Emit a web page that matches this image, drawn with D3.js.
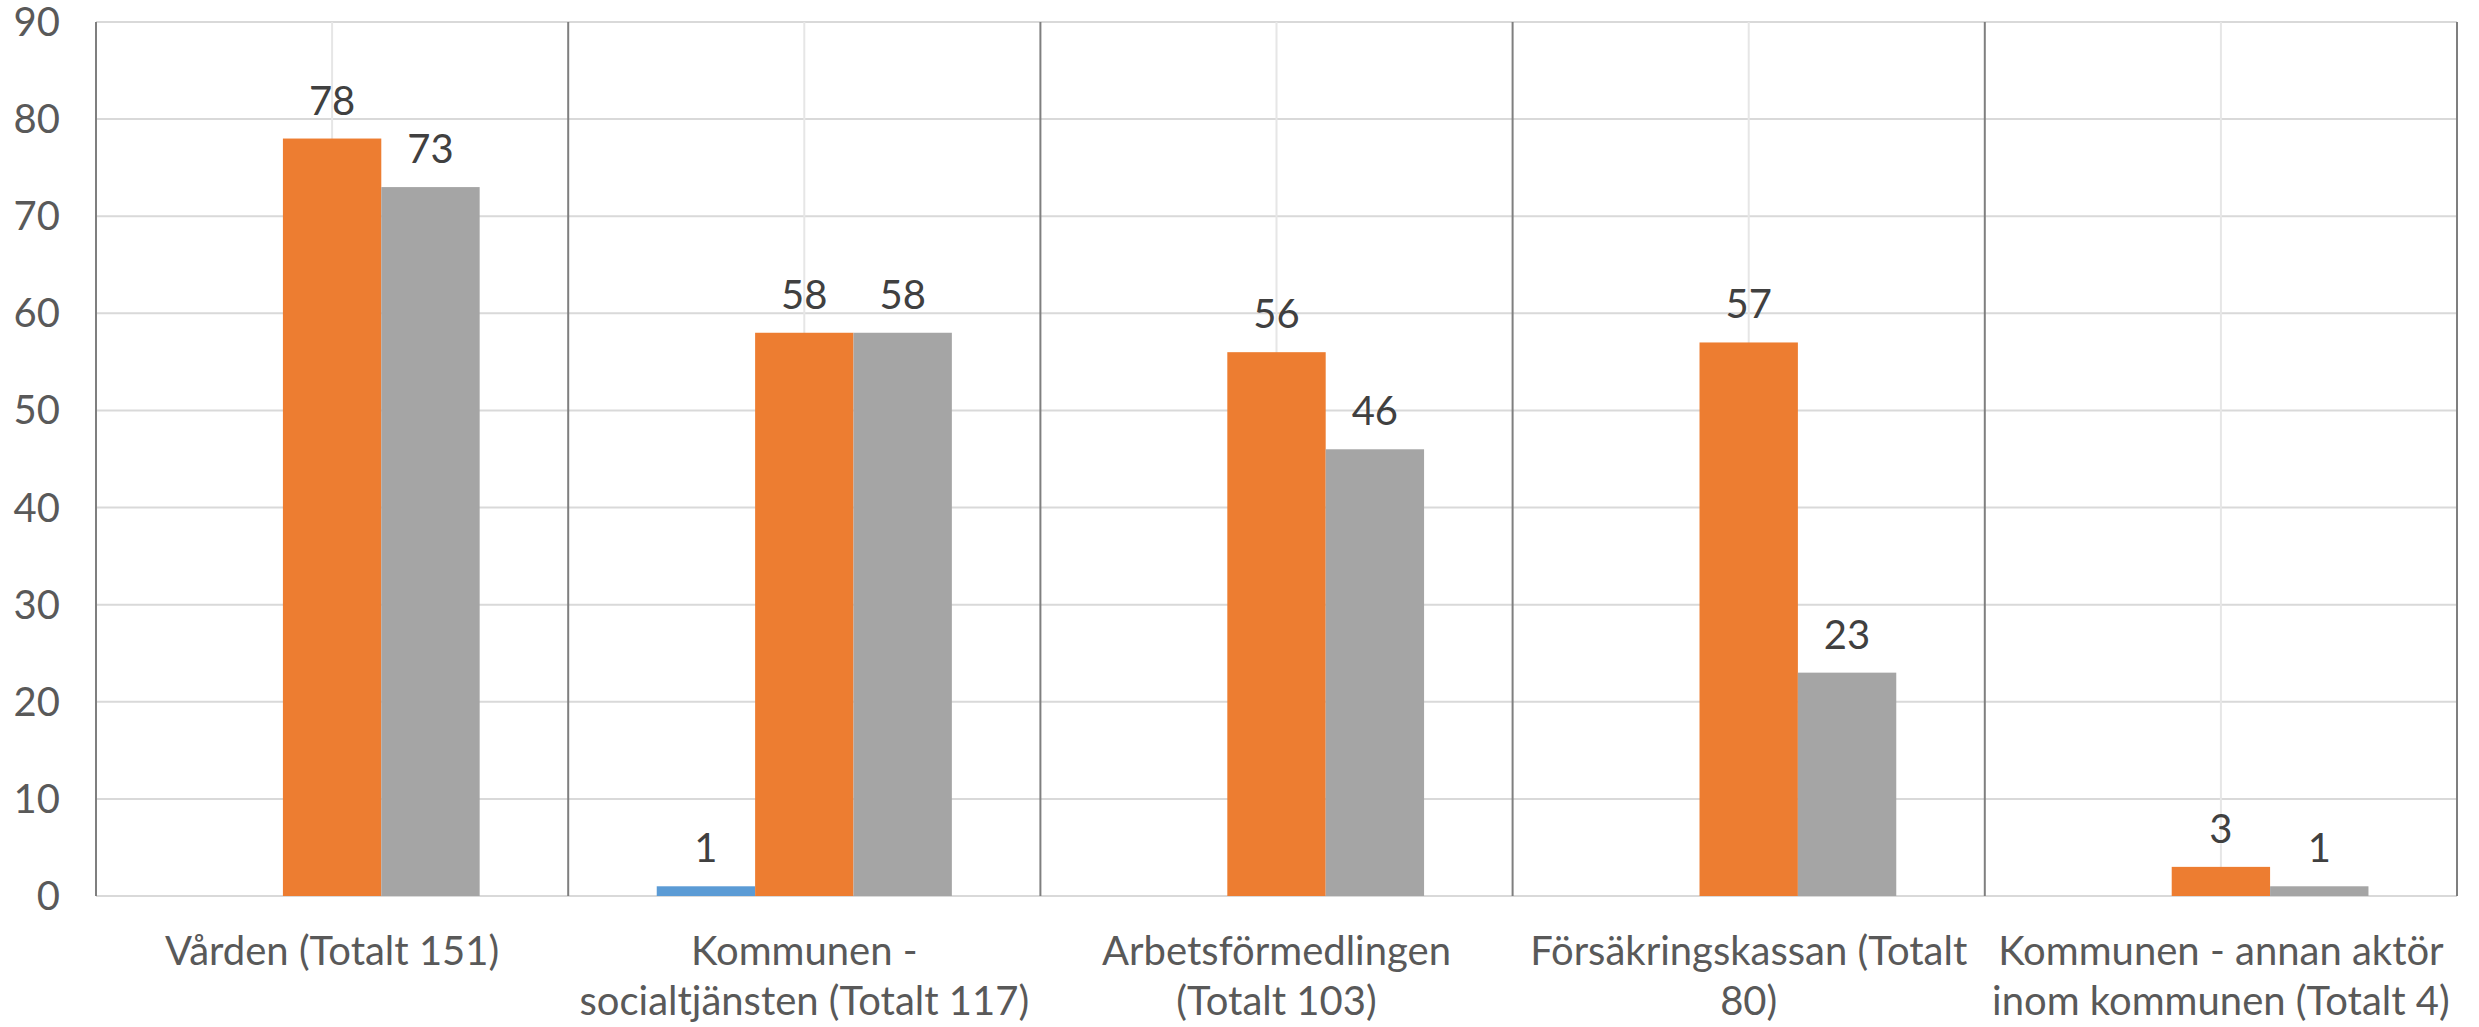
<!DOCTYPE html>
<html>
<head>
<meta charset="utf-8">
<script src="https://cdn.jsdelivr.net/npm/d3@7"></script>
<style>
  body { margin: 0; background: #fff; }
  text { font-family: Lato, "Open Sans", sans-serif; }
</style>
</head>
<body>
<svg width="2479" height="1027"></svg>

<script>
  // data
  const categories = [
    "Vården (Totalt 151)",
    "Kommunen - socialtjänsten (Totalt 117)",
    "Arbetsförmedlingen (Totalt 103)",
    "Försäkringskassan (Totalt 80)",
    "Kommunen - annan aktör inom kommunen (Totalt 4)"
  ];
  // how the category labels wrap on the axis
  const categoryLines = [
    ["Vården (Totalt 151)"],
    ["Kommunen -", "socialtjänsten (Totalt 117)"],
    ["Arbetsförmedlingen", "(Totalt 103)"],
    ["Försäkringskassan (Totalt", "80)"],
    ["Kommunen - annan aktör", "inom kommunen (Totalt 4)"]
  ];
  const seriesNames = ["Serie 1", "Serie 2", "Serie 3"];
  const serie1 = [null, 1, null, null, null];
  const serie2 = [78, 58, 56, 57, 3];
  const serie3 = [73, 58, 46, 23, 1];
  const yTicks = [0, 10, 20, 30, 40, 50, 60, 70, 80, 90];

  const colors = ["#5B9BD5", "#ED7D31", "#A5A5A5"];
  const allSeries = [serie1, serie2, serie3];

  const width = 2479, height = 1027;
  const margin = { top: 22, right: 22, bottom: 131, left: 96 };
  const fs = 40;

  const svg = d3.select("svg");
  const g = svg.append("g").attr("transform", `translate(${margin.left},${margin.top})`);
  const w = width - margin.left - margin.right;
  const h = height - margin.top - margin.bottom;

  const x0 = d3.scaleBand().domain(categories).range([0, w]).padding(0);
  const x1 = d3.scaleBand().domain(seriesNames).range([0, x0.bandwidth()])
    .paddingInner(0).paddingOuter(0.9);
  const y = d3.scaleLinear().domain([0, 90]).range([h, 0]);

  // horizontal gridlines
  g.append("g")
    .selectAll("line")
    .data(yTicks)
    .join("line")
    .attr("x1", 0)
    .attr("x2", w)
    .attr("y1", (d) => y(d))
    .attr("y2", (d) => y(d))
    .attr("stroke", "#d9d9d9")
    .attr("stroke-width", 2);

  // light vertical gridlines at category centres
  g.append("g")
    .selectAll("line")
    .data(categories)
    .join("line")
    .attr("x1", (d) => x0(d) + x0.bandwidth() / 2)
    .attr("x2", (d) => x0(d) + x0.bandwidth() / 2)
    .attr("y1", 0)
    .attr("y2", h)
    .attr("stroke", "#e6e6e6")
    .attr("stroke-width", 2);

  // dark separators between categories
  const seps = categories.map((d) => x0(d)).concat([w]);
  g.append("g")
    .selectAll("line")
    .data(seps)
    .join("line")
    .attr("x1", (d) => d)
    .attr("x2", (d) => d)
    .attr("y1", 0)
    .attr("y2", h)
    .attr("stroke", "#7f7f7f")
    .attr("stroke-width", 2);

  // y tick labels
  g.append("g")
    .selectAll("text")
    .data(yTicks)
    .join("text")
    .attr("x", -36)
    .attr("y", (d) => y(d) + 14)
    .attr("text-anchor", "end")
    .attr("font-size", fs)
    .attr("fill", "#595959")
    .text((d) => d);

  // bars
  const rows = categories.map((c, i) => ({
    cat: c,
    vals: allSeries.map((s, j) => ({ name: seriesNames[j], v: s[i], color: colors[j] }))
  }));

  const groups = g.append("g")
    .selectAll("g")
    .data(rows)
    .join("g")
    .attr("transform", (d) => `translate(${x0(d.cat)},0)`);

  groups.selectAll("rect")
    .data((d) => d.vals.filter((v) => v.v != null))
    .join("rect")
    .attr("x", (d) => x1(d.name))
    .attr("width", x1.bandwidth())
    .attr("y", (d) => y(d.v))
    .attr("height", (d) => y(0) - y(d.v))
    .attr("fill", (d) => d.color);

  groups.selectAll("text")
    .data((d) => d.vals.filter((v) => v.v != null))
    .join("text")
    .attr("x", (d) => x1(d.name) + x1.bandwidth() / 2)
    .attr("y", (d) => y(d.v) - 24)
    .attr("text-anchor", "middle")
    .attr("font-size", fs)
    .attr("fill", "#404040")
    .text((d) => d.v);

  // category labels
  const labels = g.append("g")
    .selectAll("text")
    .data(categories)
    .join("text")
    .attr("x", (d) => x0(d) + x0.bandwidth() / 2)
    .attr("y", h + 69)
    .attr("text-anchor", "middle")
    .attr("font-size", fs)
    .attr("fill", "#595959");

  labels.selectAll("tspan")
    .data((d, i) => categoryLines[i])
    .join("tspan")
    .attr("x", function () { return d3.select(this.parentNode).attr("x"); })
    .attr("dy", (d, i) => (i === 0 ? 0 : 50))
    .text((d) => d);
</script>
</body>
</html>
